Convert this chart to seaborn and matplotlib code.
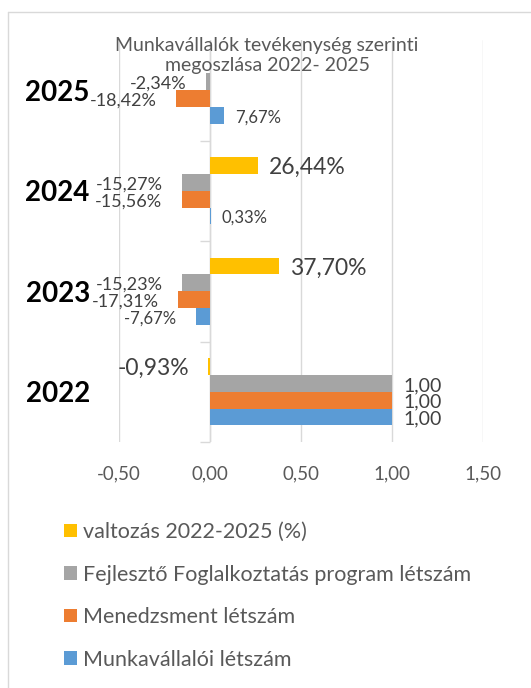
import numpy as np
import pandas as pd
import seaborn as sns
import matplotlib.pyplot as plt
from matplotlib.lines import Line2D

# adatok (felülről lefelé: 2025 -> 2022)
evek = ['2025', '2024', '2023', '2022']
sorozatok = ['valtozás 2022-2025 (%)',
             'Fejlesztő Foglalkoztatás program létszám',
             'Menedzsment létszám',
             'Munkavállalói létszám']
valtozas = [np.nan, 0.2644, 0.3770, -0.0093]
fejleszto = [-0.0234, -0.1527, -0.1523, 1.00]
menedzsment = [-0.1842, -0.1556, -0.1731, 1.00]
munkavallaloi = [0.0767, 0.0033, -0.0767, 1.00]
x_ticks = [-0.5, 0.0, 0.5, 1.0, 1.5]

szinek = ['#FFC000', '#A5A5A5', '#ED7D31', '#5B9BD5']
cimke_meret = [16.5, 13, 13, 12]

df = pd.DataFrame({
    'ev': evek * 4,
    'sorozat': [s for s in sorozatok for _ in evek],
    'ertek': valtozas + fejleszto + menedzsment + munkavallaloi,
})

sns.set_theme(style='white')
plt.rcParams['font.family'] = ['Lato', 'DejaVu Sans']

fig = plt.figure(figsize=(5.31, 6.88), dpi=100)
ax = fig.add_axes([119/531, 1 - 442/688, 364/531, 402/688])

sns.barplot(data=df, x='ertek', y='ev', hue='sorozat', order=evek,
            hue_order=sorozatok, palette=szinek, orient='h', width=0.67,
            errorbar=None, linewidth=0, saturation=1, ax=ax)

# adatcímkék
for cont, meret in zip(ax.containers, cimke_meret):
    for p in cont.patches:
        w = p.get_width()
        if np.isnan(w):
            continue
        y = p.get_y() + p.get_height() / 2
        if abs(w - 1) < 1e-9:
            txt = '1,00'
            meret = 14
        else:
            txt = f'{w*100:.2f}%'.replace('.', ',')
        ax.annotate(txt, (w, y), xytext=(8 if w >= 0 else -14, -1.5),
                    textcoords='offset points', ha='left' if w >= 0 else 'right',
                    va='center', fontsize=meret, color='#404040')

ax.set_xlim(-0.5, 1.5)
ax.set_ylim(3.5, -0.5)
ax.set_xticks(x_ticks)
ax.set_xticklabels([f'{t:.2f}'.replace('.', ',') for t in x_ticks])
ax.grid(axis='x', color='#d9d9d9', linewidth=1)
ax.set_axisbelow(True)
for s in ax.spines.values():
    s.set_visible(False)
ax.axvline(0, color='#d9d9d9', linewidth=1, zorder=0)
ax.hlines([0.5, 1.5, 2.5, 3.5], -0.055, 0, color='#d9d9d9', linewidth=1,
          clip_on=False)

ax.tick_params(axis='x', length=0, pad=17, labelsize=13.5, labelcolor='#595959')
ax.tick_params(axis='y', length=0, pad=21)
for lbl in ax.get_yticklabels():
    lbl.set_fontweight('bold')
    lbl.set_fontsize(20)
    lbl.set_color('black')
ax.set_xlabel('')
ax.set_ylabel('')

fig.text(0.503, 1 - 37/688, 'Munkavállalók tevékenység szerinti\nmegoszlása 2022- 2025',
         ha='center', va='top', fontsize=14, color='#595959', linespacing=1.2)

h, l = ax.get_legend_handles_labels()
ax.get_legend().remove()
fig.legend(h, l, loc='upper left', bbox_to_anchor=(64/531, 1 - 522/688),
           frameon=False, fontsize=15.5, labelcolor='#595959', handlelength=0.6,
           handleheight=0.6, handletextpad=0.3, labelspacing=1.05,
           borderpad=0, borderaxespad=0)

# keret
fig.add_artist(Line2D([8/531, 1.01], [1 - 12/688] * 2, color='#d9d9d9',
                      linewidth=1, transform=fig.transFigure))
fig.add_artist(Line2D([8/531] * 2, [-0.01, 1 - 12/688], color='#d9d9d9',
                      linewidth=1, transform=fig.transFigure))

fig.savefig('out.png', dpi=100)
